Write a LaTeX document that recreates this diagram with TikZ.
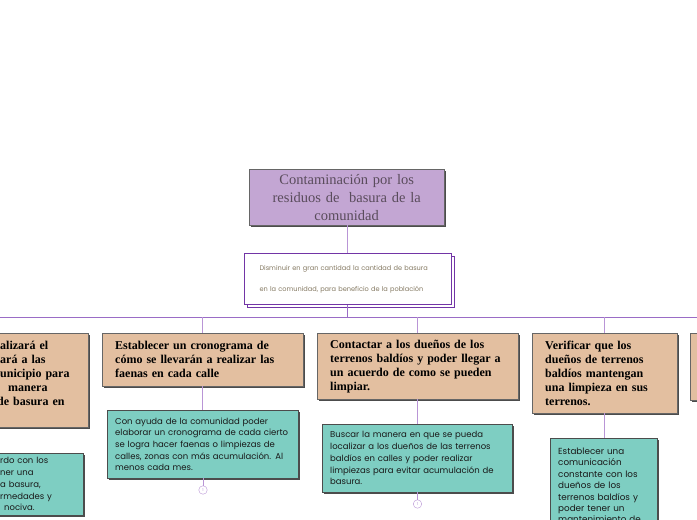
\documentclass[tikz,border=0pt]{standalone}
\usepackage{fontspec}
\setmainfont{Poppins}
\newfontfamily\slabfont{Liberation Serif}
\usetikzlibrary{shadows}

\definecolor{titlefill}{HTML}{C3A6D3}
\definecolor{stepfill}{HTML}{E3BFA0}
\definecolor{detailfill}{HTML}{7ECEC2}
\definecolor{linklav}{HTML}{B995D6}
\definecolor{buspurple}{HTML}{9A6CC6}
\definecolor{goalframe}{HTML}{7235A6}
\definecolor{goaltext}{HTML}{857A63}
\definecolor{titletext}{HTML}{5A4C5C}

% lines whose start runs off the left edge of the page
\newcommand\cutline[3][100pt]{\makebox[#1][r]{#2}#3}
\newcommand\cutgap[3][100pt]{\makebox[#1][l]{#2}#3}

\tikzset{
  boxshadow/.style={drop shadow={shadow xshift=2pt,shadow yshift=-2pt,opacity=1,fill=black!70}},
  titlebox/.style={draw=black!60,fill=titlefill,boxshadow,anchor=north west,align=center,
    font=\slabfont\fontsize{14.5}{18}\selectfont,text=titletext,inner sep=0pt},
  goalbox/.style={draw=goalframe,line width=1pt,fill=white,anchor=north west,align=left,
    copy shadow={shadow xshift=3pt,shadow yshift=-3pt},
    font=\fontsize{6.6}{21}\selectfont,text=goaltext,inner xsep=15pt},
  stepbox/.style={draw=black!60,fill=stepfill,boxshadow,anchor=north west,align=left,
    font=\slabfont\bfseries\fontsize{12}{14}\selectfont,inner xsep=13pt,inner ysep=0pt},
  detailbox/.style={draw=black!70,fill=detailfill,boxshadow,anchor=north west,align=left,
    font=\fontsize{8.5}{11.7}\selectfont,text=black!90,inner xsep=8pt,inner ysep=0pt},
  marker/.style={circle,draw=linklav,fill=white,inner sep=0pt,minimum size=8.5pt,
    font=\fontsize{4}{4}\selectfont,text=linklav},
  link/.style={draw=linklav,line width=0.8pt},
  bus/.style={draw=buspurple,line width=1pt}
}

\begin{document}
\begin{tikzpicture}[x=1pt,y=-1pt]
\useasboundingbox (0,0) rectangle (697,520);
\clip (0,0) rectangle (697,520);

% central idea
\node[titlebox,text width=195pt,minimum height=56pt] (title) at (249,169)
  {Contaminación por los\\residuos de \ basura de la\\comunidad};

\node[goalbox,text width=177pt,minimum height=51pt] (goal) at (244,253)
  {Disminuir en gran cantidad la cantidad de basura\\en la comunidad, para beneficio de la población};

\coordinate (bus) at (347.5,317);

% steps
\node[stepbox,text width=175pt,minimum height=94pt] (stepA) at (-113,333)
  {\cutline{Cada semana se re}{alizará el}\\
   \cutline{recorrido y se llev}{ará a las}\\
   \cutline{autoridades del m}{unicipio para}\\
   \cutgap[108pt]{que se limpie de}{manera}\\
   \cutline[97pt]{adecuada los restos }{de basura en}\\
   las calles.};
\node[stepbox,text width=175pt,minimum height=53pt] (stepB) at (102,333)
  {Establecer un cronograma de\\cómo se llevarán a realizar las\\faenas en cada calle};
\node[stepbox,text width=175pt,minimum height=66pt] (stepC) at (317,333)
  {Contactar a los dueños de los\\terrenos baldíos y poder llegar a\\un acuerdo de como se pueden\\limpiar.};
\node[stepbox,text width=119pt,minimum height=80pt] (stepD) at (532,333)
  {Verificar que los\\dueños de terrenos\\baldíos mantengan\\una limpieza en sus\\terrenos.};
\node[stepbox,text width=175pt,minimum height=67pt] (stepE) at (690,333) {};

% details
\node[detailbox,text width=175pt,minimum height=62pt] (detailA) at (-108,453)
  {\cutline{Llegar a un buen acue}{rdo con los}\\
   \cutline{vecinos para poder te}{ner una}\\
   \cutline{mejor recolección de l}{a basura,}\\
   \cutline{evitando así las enfe}{rmedades y}\\
   \cutgap[104pt]{evitando la fauna}{nociva.}};
\node[detailbox,text width=175pt,minimum height=68pt] (detailB) at (107,410)
  {Con ayuda de la comunidad poder\\elaborar un cronograma de cada cierto\\se logra hacer faenas o limpiezas de\\calles, zonas con más acumulación. Al\\menos cada mes.};
\node[detailbox,text width=174pt,minimum height=68pt] (detailC) at (322,424)
  {Buscar la manera en que se pueda\\localizar a los dueños de las terrenos\\baldíos en calles y poder realizar\\limpiezas para evitar acumulación de\\basura.};
\node[detailbox,text width=91pt,minimum height=106pt,
  font=\fontsize{8.8}{11.4}\selectfont] (detailD) at (550,438)
  {Establecer una\\comunicación\\constante con los\\dueños de los\\terrenos baldíos y\\poder tener un\\mantenimiento de\\sus terrenos.};

\node[marker] (markB) at (203,490) {1};
\node[marker] (markC) at (417.5,504) {1};

% connectors
\draw[link] (title.south -| bus) -- (goal.north -| bus);
\draw[bus] (goal.south -| bus) -- (bus);
\draw[bus] (stepA.north |- bus) -- (stepE.north |- bus);
\foreach \s in {stepA,stepB,stepC,stepD}
  \draw[link] (\s.north |- bus) -- (\s.north);
\draw[link] (stepA.south) -- (stepA.south |- detailA.north);
\draw[link] (stepB.south) -- (stepB.south |- detailB.north);
\draw[link] (stepC.south) -- (stepC.south |- detailC.north);
\draw[link] (stepD.south) -- (stepD.south |- detailD.north);
\draw[link] (detailB.south -| markB) -- (markB);
\draw[link] (detailC.south -| markC) -- (markC);
\end{tikzpicture}
\end{document}
